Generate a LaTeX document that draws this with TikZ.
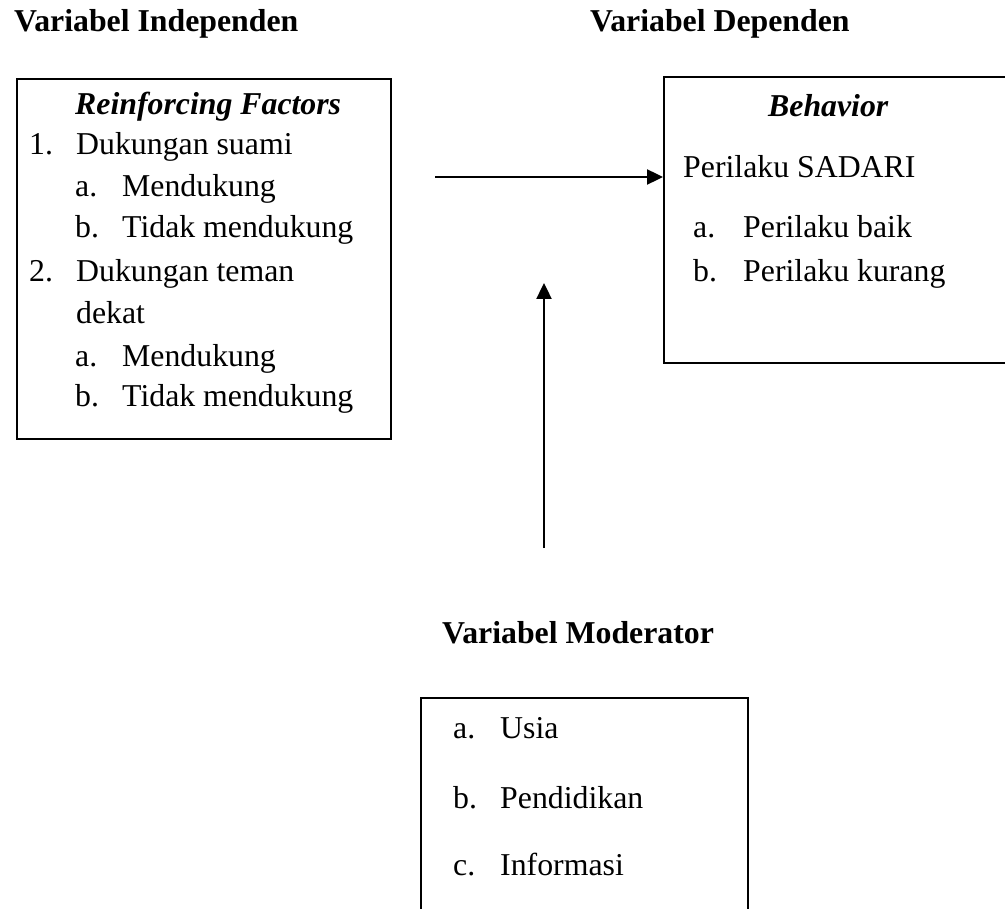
\documentclass[tikz,border=0pt]{standalone}
\usepackage{fontspec}
\setmainfont{Liberation Serif}
\usetikzlibrary{arrows.meta}
\begin{document}
\begin{tikzpicture}[x=1pt,y=-1pt,
  txt/.style={anchor=base west,inner sep=0pt,font=\fontsize{31.8}{38}\selectfont},
  ttl/.style={txt,font=\fontsize{31.8}{38}\selectfont\bfseries},
  hdr/.style={txt,font=\fontsize{31.8}{38}\selectfont\bfseries\itshape},
  frame/.style={draw,line width=1.8pt,anchor=north west,inner sep=0pt},
  arr/.style={line width=2.4pt,-{Triangle[length=16pt,width=15pt]}}]
\clip (0,0) rectangle (1005,909);
% titles
\node[ttl] (tind) at (14,32) {Variabel Independen};
\node[ttl] (tdep) at (590,32) {Variabel Dependen};
\node[ttl] (tmod) at (442,643) {Variabel Moderator};
% boxes
\node[frame,minimum width=374pt,minimum height=360pt] (ind) at (16,78) {};
\node[frame,minimum width=360pt,minimum height=286pt] (beh) at (663,76) {};
\node[frame,minimum width=327pt,minimum height=240pt] (mod) at (420,697) {};
% left box text
\node[hdr] (l0) at (75,115) {Reinforcing Factors};
\node[txt] (l1n) at (29,155) {1.};
\node[txt] (l1) at (76,155) {Dukungan suami};
\node[txt] (l2n) at (75,197) {a.};
\node[txt] (l2) at (122,197) {Mendukung};
\node[txt] (l3n) at (75,238) {b.};
\node[txt] (l3) at (122,238) {Tidak mendukung};
\node[txt] (l4n) at (29,282) {2.};
\node[txt] (l4) at (76,282) {Dukungan teman};
\node[txt] (l5) at (76,324) {dekat};
\node[txt] (l6n) at (75,367) {a.};
\node[txt] (l6) at (122,367) {Mendukung};
\node[txt] (l7n) at (75,407) {b.};
\node[txt] (l7) at (122,407) {Tidak mendukung};
% right box text
\node[hdr] (r0) at (768,117) {Behavior};
\node[txt] (r1) at (683,178) {Perilaku SADARI};
\node[txt] (r2n) at (693,238) {a.};
\node[txt] (r2) at (743,238) {Perilaku baik};
\node[txt] (r3n) at (693,282) {b.};
\node[txt] (r3) at (743,282) {Perilaku kurang};
% bottom box text
\node[txt] (m1n) at (453,738) {a.};
\node[txt] (m1) at (500,738) {Usia};
\node[txt] (m2n) at (453,808) {b.};
\node[txt] (m2) at (500,808) {Pendidikan};
\node[txt] (m3n) at (453,875) {c.};
\node[txt] (m3) at (500,875) {Informasi};
% arrows
\coordinate (h0) at (435,177);
\draw[arr] (h0) -- (h0 -| beh.west);
\coordinate (v0) at (544,548);
\coordinate (v1) at (544,283);
\draw[arr] (v0) -- (v1);
\end{tikzpicture}
\end{document}
